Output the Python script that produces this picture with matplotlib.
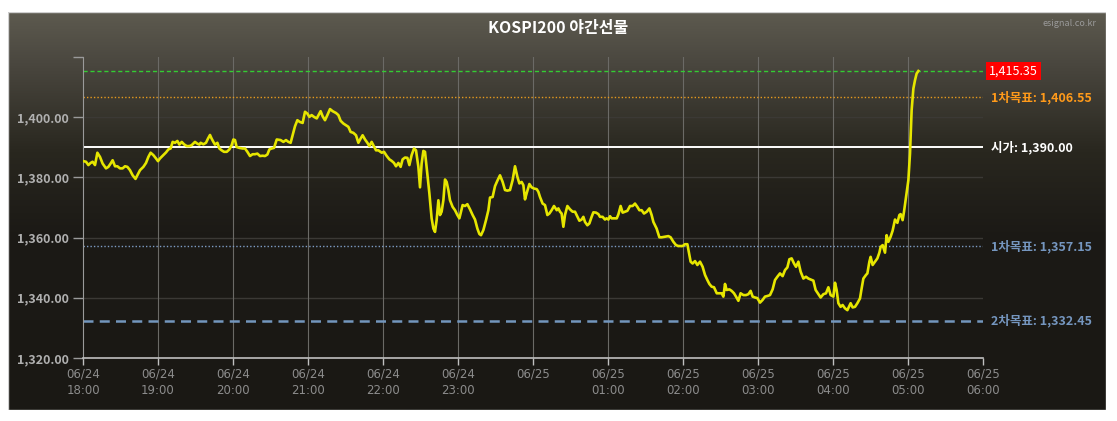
import numpy as np
import matplotlib
matplotlib.use("Agg")
import matplotlib.pyplot as plt
from matplotlib.colors import LinearSegmentedColormap
from matplotlib.patches import Rectangle

plt.rcParams["font.family"] = ["Noto Sans CJK KR", "DejaVu Sans"]

# minutes after 06/24 18:00 and KOSPI200 night futures price
minutes = [
    0.3, 2.4, 4.3, 6.1, 7.7, 9.6, 11.5, 13.6, 15.7, 18.4, 20.3, 22.1, 23.7, 25.6, 27.5, 29.6,
    31.7, 33.6, 35.5, 37.6, 39.7, 42.0, 43.5, 45.6, 48.3, 50.4, 52.3, 54.1, 56.3, 58.4, 60.0,
    61.6, 64.3, 66.4, 68.3, 70.1, 71.7, 73.6, 75.5, 77.1, 79.0, 80.8, 83.0, 85.1, 86.9, 89.6,
    91.5, 93.1, 94.1, 96.3, 98.4, 100.0, 101.6, 102.9, 104.3, 105.6, 107.5, 109.1, 110.9, 112.8,
    115.0, 117.1, 118.9, 120.3, 121.6, 122.9, 125.1, 127.7, 129.6, 131.5, 133.6, 135.7, 137.6,
    139.5, 141.6, 143.7, 145.6, 147.5, 149.1, 150.9, 152.8, 155.0,
    158.1, 160.3, 162.4, 164.3, 166.1, 167.7, 169.6, 171.5, 173.6, 175.7, 177.6, 179.5, 181.1,
    182.9, 184.8, 187.0, 189.1, 190.1, 191.7, 193.6, 195.5, 197.6, 199.7, 202.4, 204.3, 206.1,
    208.3, 210.4, 212.3, 214.1, 216.3, 218.4, 220.3, 222.1, 223.7, 225.6, 227.5, 229.1, 230.9,
    232.3, 234.4, 236.3, 239.0, 240.8, 243.0, 245.1, 246.9, 248.8, 250.4, 252.3, 254.1, 255.7,
    257.6, 259.5, 261.1, 262.9, 264.8, 266.4, 268.3, 269.6, 270.9, 272.3, 273.6, 274.9, 277.1,
    278.9, 280.3, 281.6, 282.9, 284.3, 285.6, 286.9, 288.3, 289.6, 290.9, 292.3, 293.6, 295.7,
    297.6, 299.5, 301.1,
    303.7, 305.6, 307.5, 309.6, 311.7, 313.6, 315.5, 317.1, 318.4, 320.3, 322.4, 324.3, 325.6,
    327.7, 329.6, 331.5, 333.6, 335.7, 337.6, 339.5, 341.6, 343.7, 345.6, 347.5, 349.1, 350.9,
    352.3, 353.6, 354.9, 357.1, 358.9, 360.8, 363.0, 364.3, 365.6, 367.7, 369.6, 371.5, 373.1,
    374.9, 376.8, 379.0, 380.3, 381.6, 382.9, 384.3, 385.6, 387.5, 389.6, 391.7, 393.6, 394.9,
    397.1, 398.9, 400.3, 401.6, 403.5, 405.1, 406.9, 408.3, 410.4, 412.3, 413.6, 415.7, 417.6,
    418.9, 420.3, 421.6, 422.9, 424.8, 427.0, 428.3, 430.1, 431.7, 433.6, 435.5, 437.6, 439.7,
    441.6, 443.5, 445.1, 446.9, 448.8, 451.0, 453.1, 454.9, 456.3, 458.9, 461.1, 462.9, 465.6,
    468.3, 470.1, 472.3, 474.4, 476.3,
    479.7, 481.6, 483.5, 485.1, 486.1, 487.7, 489.6, 491.5, 493.6, 495.7, 497.6, 499.5, 501.1,
    502.9, 504.8, 507.0, 509.1, 510.9, 512.3, 513.6, 514.9, 517.1, 518.9, 520.8, 522.4, 524.3,
    526.1, 528.3, 530.4, 532.3, 534.1, 535.7, 537.6, 539.5, 541.6, 543.7, 545.6, 547.5, 549.6,
    551.7, 553.6, 555.5, 557.6, 559.7, 561.6, 563.5, 565.1, 566.9, 568.8, 570.4, 572.3, 574.1,
    576.3, 578.4, 580.3, 582.1, 584.3, 586.1, 588.3, 590.1, 592.3, 594.4, 596.3, 598.1, 600.3,
    601.6, 602.9, 604.3, 606.1, 607.7, 609.6, 611.5, 613.1, 614.1, 615.7, 617.6, 619.5, 621.6,
    622.9, 624.3, 626.4, 627.5, 629.1, 630.1, 631.7, 633.6, 635.5, 637.1, 638.1, 639.7, 641.6,
    642.9, 644.3, 646.1, 647.7, 649.6, 651.5, 653.1, 654.1, 655.7, 656.8, 658.4, 660.3, 661.6,
    662.9, 664.3, 665.6, 666.9, 668.3,
]
price = [
    1385.4, 1385.2, 1384.1, 1384.8, 1385.2, 1384.1, 1388.2, 1386.8, 1384.6, 1383.0, 1383.5, 1384.6,
    1385.7, 1383.7, 1383.7, 1383.0, 1383.0, 1383.7, 1383.5, 1382.4, 1380.7, 1379.5, 1380.7, 1382.4,
    1383.5, 1384.8, 1386.8, 1388.2, 1387.4, 1386.3, 1385.4, 1386.3, 1387.4, 1388.3, 1389.3, 1389.6,
    1391.8, 1391.5, 1392.1, 1390.9, 1391.8, 1391.0, 1390.4, 1390.4, 1390.7, 1391.8, 1391.2, 1390.9,
    1391.5, 1391.0, 1391.5, 1392.9, 1394.1, 1392.9, 1391.8, 1390.9, 1391.5, 1389.6, 1389.0, 1388.5,
    1388.5, 1389.3, 1390.7, 1392.6, 1392.4, 1390.1, 1389.8, 1389.6, 1389.6, 1388.5, 1387.1, 1387.7,
    1387.7, 1387.9, 1387.1, 1387.2, 1387.1, 1387.6, 1389.3, 1389.6, 1389.8, 1392.6,
    1392.4, 1391.8, 1392.4, 1391.8, 1391.5, 1394.0, 1397.0, 1399.0, 1398.4, 1398.1, 1401.8, 1401.2,
    1400.1, 1400.7, 1400.1, 1399.6, 1401.2, 1402.0, 1400.3, 1399.0, 1400.7, 1402.7, 1402.0, 1401.4,
    1400.7, 1398.8, 1397.9, 1397.3, 1396.8, 1395.1, 1394.8, 1394.0, 1391.5, 1392.9, 1394.0, 1392.6,
    1391.5, 1390.4, 1391.8, 1390.7, 1389.0, 1389.0, 1388.2, 1388.5, 1387.1, 1386.0, 1385.5, 1384.8,
    1383.7, 1384.8, 1383.5, 1386.0, 1386.6, 1386.5, 1384.1, 1387.4, 1389.6, 1389.0, 1383.5, 1376.7,
    1384.6, 1388.8, 1388.5, 1383.5, 1374.7, 1366.4, 1363.0, 1361.9, 1365.8, 1372.4, 1367.5, 1368.6,
    1372.4, 1379.3, 1378.5, 1375.8, 1372.4, 1370.2, 1369.1, 1367.5, 1366.4,
    1370.8, 1370.5, 1371.1, 1369.4, 1367.5, 1366.0, 1363.0, 1361.2, 1360.8, 1362.5, 1365.8, 1369.1,
    1373.3, 1373.5, 1377.1, 1378.9, 1380.7, 1378.5, 1375.8, 1375.6, 1375.8, 1379.1, 1383.7, 1380.2,
    1378.0, 1378.5, 1377.4, 1372.7, 1374.7, 1377.8, 1376.7, 1376.3, 1376.1, 1375.2, 1373.5, 1371.3,
    1370.8, 1367.5, 1368.0, 1369.1, 1370.5, 1369.1, 1369.7, 1368.6, 1368.0, 1363.6, 1367.5, 1370.5,
    1369.4, 1368.6, 1368.6, 1367.5, 1365.6, 1366.0, 1366.9, 1365.2, 1364.1, 1364.7, 1366.9, 1368.4,
    1368.3, 1367.8, 1366.9, 1366.9, 1366.0, 1366.4, 1366.0, 1367.1, 1366.4, 1366.4, 1366.4, 1367.7,
    1370.5, 1368.3, 1368.6, 1368.9, 1370.5, 1370.5, 1371.3, 1370.2, 1369.1, 1369.1, 1368.0, 1368.6,
    1369.7, 1367.5, 1365.2, 1363.0, 1360.1, 1360.1, 1360.3, 1360.5, 1360.1, 1358.6, 1357.5, 1357.2,
    1357.2, 1357.8, 1357.8, 1354.2, 1352.0, 1351.4, 1352.2, 1350.9, 1352.0, 1350.3, 1347.6, 1345.9,
    1344.6, 1343.7, 1343.5, 1341.5, 1341.5, 1341.5, 1340.4, 1344.6, 1342.6, 1342.8, 1342.3, 1341.5,
    1340.4, 1339.0, 1341.5, 1340.9, 1340.9, 1341.2, 1342.3, 1340.4, 1340.1, 1339.9, 1338.4, 1339.3,
    1340.4, 1340.6, 1340.9, 1342.8, 1345.9, 1347.0, 1348.1, 1347.2, 1349.2, 1350.1, 1352.8, 1353.1,
    1351.4, 1350.3, 1352.0, 1348.7, 1346.4, 1347.0, 1346.4, 1346.1, 1345.7, 1342.6, 1341.2, 1340.1,
    1341.2, 1341.5, 1343.5, 1340.9, 1340.4,
    1345.0, 1342.6, 1338.2, 1337.0, 1337.6, 1336.5, 1335.9, 1337.3, 1338.2, 1336.8, 1337.0, 1338.2,
    1339.8, 1343.1, 1346.4, 1347.6, 1348.1, 1352.0, 1353.6, 1350.9, 1352.0, 1353.1, 1355.0, 1356.9,
    1357.5, 1355.0, 1360.8, 1358.6, 1360.3, 1362.3, 1366.0, 1364.9, 1367.5, 1367.8, 1365.8, 1368.6,
    1373.5, 1379.1, 1387.9, 1402.3, 1409.5, 1412.3, 1414.5, 1415.35,
]

last_price = 1415.35
open_price = 1390.00
upper_target = 1406.55
lower_target1 = 1357.15
lower_target2 = 1332.45

y_ticks = [1320, 1340, 1360, 1380, 1400, 1420]
x_ticks = list(range(13))
x_labels = ["06/24\n18:00", "06/24\n19:00", "06/24\n20:00", "06/24\n21:00", "06/24\n22:00",
            "06/24\n23:00", "06/25", "06/25\n01:00", "06/25\n02:00", "06/25\n03:00",
            "06/25\n04:00", "06/25\n05:00", "06/25\n06:00"]

W, H = 1117, 421
fig = plt.figure(figsize=(W / 100, H / 100), dpi=100, facecolor="white")

# dark panel with a vertical gradient
px0, py0, px1, py1 = 8, 12, 1106, 410
bg = fig.add_axes([px0 / W, 1 - py1 / H, (px1 - px0) / W, (py1 - py0) / H])
bg.set_axis_off()
cmap = LinearSegmentedColormap.from_list(
    "panel", [(0.0, "#5d5a4f"), (0.12, "#4b4840"), (0.35, "#29271f"),
              (0.55, "#1c1a16"), (1.0, "#1a1814")])
grad = np.linspace(0, 1, 256).reshape(-1, 1)
bg.imshow(grad, aspect="auto", cmap=cmap, extent=[0, 1, 0, 1], origin="upper")
bg.add_patch(Rectangle((0, 0), 1, 1, transform=bg.transAxes, fill=False,
                       edgecolor="#d0d0d0", linewidth=1.0))
bg.set_xlim(0, 1)
bg.set_ylim(0, 1)

# plot area
ax0, ay0, ax1, ay1 = 83, 57, 983, 358
ax = fig.add_axes([ax0 / W, 1 - ay1 / H, (ax1 - ax0) / W, (ay1 - ay0) / H])
ax.set_facecolor("none")
ax.set_xlim(0, 12)
ax.set_ylim(1320, 1420)

for yv in y_ticks[1:-1]:
    ax.axhline(yv, color="#3b3935", linewidth=1, zorder=1)
for xv in x_ticks[1:-1]:
    ax.axvline(xv, color="#6b6a66", linewidth=0.8, zorder=1)

ax.axhline(last_price, color="#33cc33", linewidth=1, linestyle=(0, (3, 2)), zorder=2)
ax.axhline(upper_target, color="#e69a1e", linewidth=1, linestyle=(0, (1, 1.5)), zorder=2)
ax.axhline(open_price, color="#ffffff", linewidth=1.4, zorder=2)
ax.axhline(lower_target1, color="#7d9cc4", linewidth=1, linestyle=(0, (1, 1.5)), zorder=2)
ax.axhline(lower_target2, color="#7396bd", linewidth=1.8, linestyle=(0, (4, 2.5)), zorder=2)

hours = np.array(minutes) / 60.0
ax.plot(hours, price, color="#e6e600", linewidth=1.9, zorder=3,
        solid_joinstyle="round")

for s in ["top", "right"]:
    ax.spines[s].set_visible(False)
ax.spines["left"].set_color("#9a9a9a")
ax.spines["bottom"].set_color("#c0c0c0")
ax.spines["bottom"].set_linewidth(1.2)

ax.set_yticks(y_ticks)
ax.set_yticklabels([f"{v:,.2f}" if v != 1420 else "" for v in y_ticks])
ax.tick_params(axis="y", colors="#9a9a9a", length=7, width=1, pad=3,
               labelsize=9, labelcolor="#b0b0b0")
for lab in ax.get_yticklabels():
    lab.set_fontweight("bold")
ax.set_xticks(x_ticks)
ax.set_xticklabels(x_labels)
ax.tick_params(axis="x", colors="#c0c0c0", length=5, width=1, pad=2,
               labelsize=8.5, labelcolor="#8c8c8c")
for lab in ax.get_xticklabels():
    lab.set_family("DejaVu Sans")
    lab.set_linespacing(1.3)

# right-hand labels
lx = 1.0 + 8 / (ax1 - ax0)
ax.text(lx - 0.002, last_price, "1,415.35", transform=ax.get_yaxis_transform(),
        color="white", fontsize=9, va="center", ha="left", zorder=5,
        bbox=dict(boxstyle="square,pad=0.22", facecolor="#ff0000", edgecolor="none"))
ax.text(lx, upper_target, "1차목표: 1,406.55", transform=ax.get_yaxis_transform(),
        color="#ff9a1a", fontsize=9, fontweight="bold", va="center", ha="left")
ax.text(lx, open_price, "시가: 1,390.00", transform=ax.get_yaxis_transform(),
        color="#ffffff", fontsize=9, fontweight="bold", va="center", ha="left")
ax.text(lx, lower_target1, "1차목표: 1,357.15", transform=ax.get_yaxis_transform(),
        color="#7596bf", fontsize=9, fontweight="bold", va="center", ha="left")
ax.text(lx, lower_target2, "2차목표: 1,332.45", transform=ax.get_yaxis_transform(),
        color="#7596bf", fontsize=9, fontweight="bold", va="center", ha="left")

fig.text(558 / W, 1 - 28 / H, "KOSPI200 야간선물", color="white", fontsize=11.5,
         fontweight="bold", ha="center", va="center")
fig.text(1096 / W, 1 - 23 / H, "esignal.co.kr", color="#9a9a9a", fontsize=6.5,
         ha="right", va="center")

fig.savefig("out.png", dpi=100, facecolor="white")
